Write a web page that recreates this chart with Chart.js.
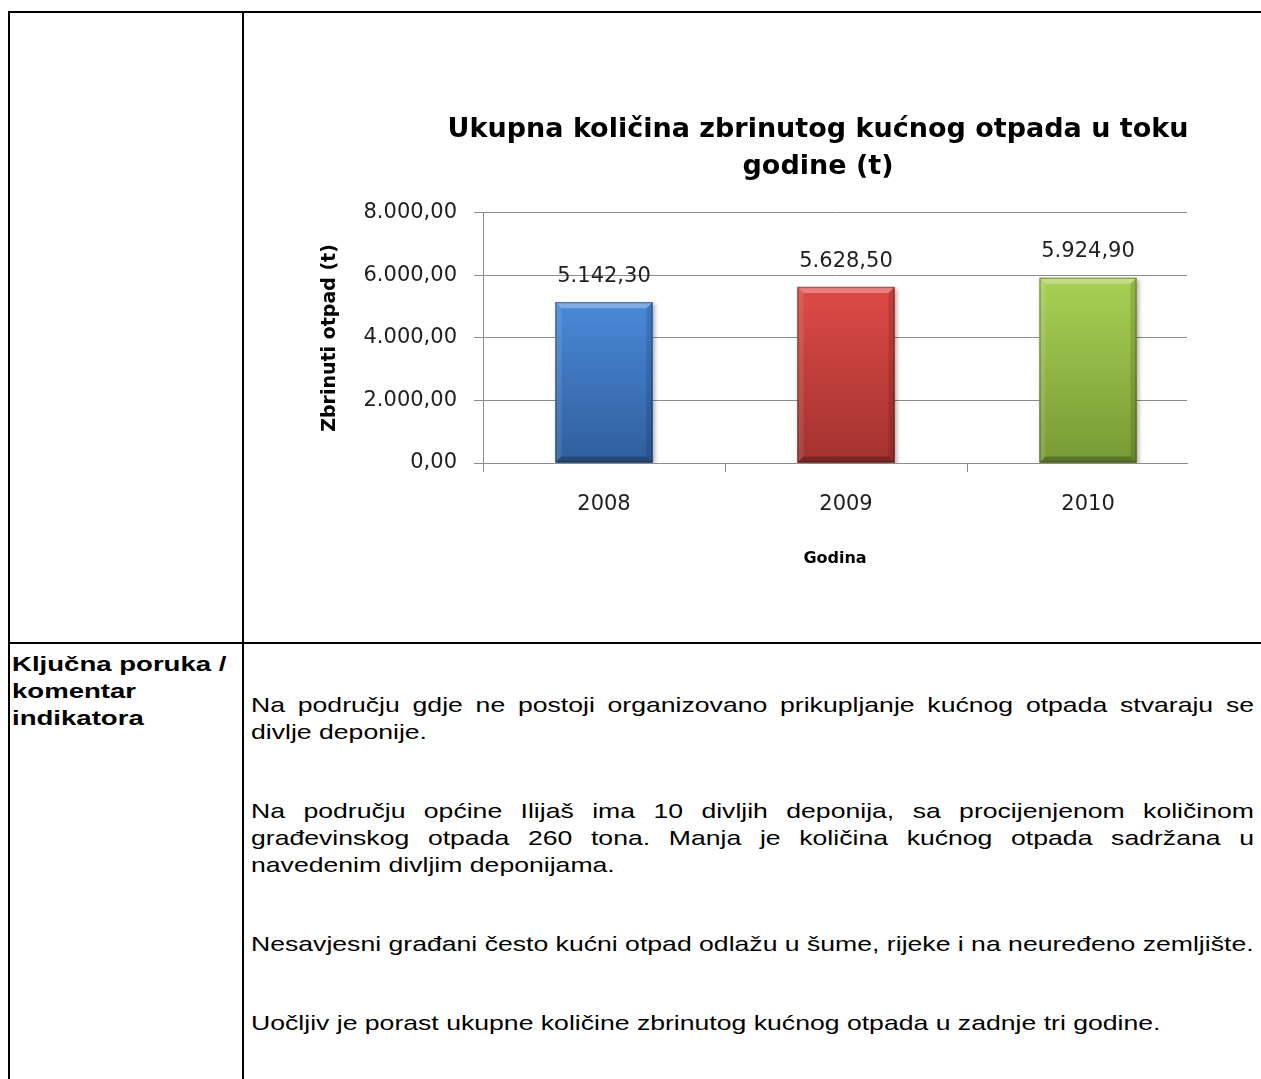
<!DOCTYPE html>
<html><head><meta charset="utf-8">
<script src="https://cdn.jsdelivr.net/npm/chart.js@4.4.1/dist/chart.umd.min.js"></script>
<style>
html,body{margin:0;padding:0;background:#fff;}
body{width:1261px;height:1079px;position:relative;overflow:hidden;font-family:"Liberation Sans",Arial,sans-serif;color:#000;}
.ln{position:absolute;background:#000;}
.t{position:absolute;left:251px;white-space:nowrap;transform-origin:0 0;font-size:21px;line-height:21px;}
.j{white-space:normal;text-align:justify;text-align-last:justify;}
.b{left:12px;font-weight:bold;font-size:20px;line-height:20px;}
</style></head>
<body>
<div class="ln" style="left:8px;top:11px;width:1253px;height:2px"></div>
<div class="ln" style="left:8px;top:11px;width:2px;height:1068px"></div>
<div class="ln" style="left:242px;top:11px;width:2px;height:1068px"></div>
<div class="ln" style="left:8px;top:642px;width:1253px;height:2px"></div>

<canvas id="c" width="961" height="520" style="position:absolute;left:300px;top:80px;width:961px;height:520px"></canvas>

<div class="t b lab" id="k1" style="top:654px">Ključna poruka /</div>
<div class="t b lab" style="top:681px">komentar</div>
<div class="t b lab" style="top:708px">indikatora</div>

<div class="t j bt" style="top:694px">Na području gdje ne postoji organizovano prikupljanje kućnog otpada stvaraju se</div>
<div class="t bt" style="top:721px">divlje deponije.</div>
<div class="t j bt" style="top:800px">Na području općine Ilijaš ima 10 divljih deponija, sa procijenjenom količinom</div>
<div class="t j bt" style="top:827px">građevinskog otpada 260 tona. Manja je količina kućnog otpada sadržana u</div>
<div class="t bt" style="top:854px">navedenim divljim deponijama.</div>
<div class="t bt" id="p3" style="top:933px">Nesavjesni građani često kućni otpad odlažu u šume, rijeke i na neuređeno zemljište.</div>
<div class="t bt" style="top:1012px">Uočljiv je porast ukupne količine zbrinutog kućnog otpada u zadnje tri godine.</div>

<script>
// ---- data ----
const categories = ['2008', '2009', '2010'];
const values = [5142.3, 5628.5, 5924.9];
const yTicks = [0, 2000, 4000, 6000, 8000];
const titleLines = ['Ukupna količina zbrinutog kućnog otpada u toku', 'godine (t)'];
const yTitle = 'Zbrinuti otpad (t)';
const xTitle = 'Godina';

// ---- text scaling (table text is horizontally stretched in the reference) ----
(function(){
  const p3 = document.getElementById('p3');
  const s = 1002 / p3.offsetWidth;
  document.querySelectorAll('.bt').forEach(el => {
    if (el.classList.contains('j')) el.style.width = (1003 / s) + 'px';
    el.style.transform = 'scaleX(' + s + ')';
  });
  const k1 = document.getElementById('k1');
  const s2 = 215 / k1.offsetWidth;
  document.querySelectorAll('.lab').forEach(el => { el.style.transform = 'scaleX(' + s2 + ')'; });
})();

function fmt(v) {
  const parts = Number(v).toFixed(2).split('.');
  return parts[0].replace(/\B(?=(\d{3})+(?!\d))/g, '.') + ',' + parts[1];
}

const barTop = ['#4a89d8', '#de4a47', '#a8d054'];
const barBottom = ['#2f5e9d', '#a2322e', '#789a35'];
const gridColor = '#8c8c8c';
const FONT = "'DejaVu Sans', sans-serif";

function poly(ctx, pts, color) {
  ctx.beginPath();
  ctx.moveTo(pts[0][0], pts[0][1]);
  for (let i = 1; i < pts.length; i++) ctx.lineTo(pts[i][0], pts[i][1]);
  ctx.closePath();
  ctx.fillStyle = color;
  ctx.fill();
}

const barEffects = {
  id: 'barEffects',
  beforeDatasetDraw(chart) {
    const ctx = chart.ctx;
    ctx.save();
    ctx.shadowColor = 'rgba(0,0,0,0.30)';
    ctx.shadowBlur = 4;
    ctx.shadowOffsetX = 2;
    ctx.shadowOffsetY = 2;
  },
  afterDatasetDraw(chart) {
    chart.ctx.restore();
  },
  afterDatasetsDraw(chart) {
    const ctx = chart.ctx;
    const meta = chart.getDatasetMeta(0);
    meta.data.forEach((bar, i) => {
      const p = bar.getProps(['x', 'y', 'base', 'width'], true);
      const l = p.x - p.width / 2, r = p.x + p.width / 2, t = p.y, b = p.base, e = 6;
      ctx.save();
      poly(ctx, [[l, t], [r, t], [r - e, t + e], [l + e, t + e]], 'rgba(255,255,255,0.30)');
      poly(ctx, [[l, t], [l + e, t + e], [l + e, b - e], [l, b]], 'rgba(255,255,255,0.10)');
      poly(ctx, [[r, t], [r, b], [r - e, b - e], [r - e, t + e]], 'rgba(0,0,0,0.13)');
      poly(ctx, [[l, b], [l + e, b - e], [r - e, b - e], [r, b]], 'rgba(0,0,0,0.25)');
      ctx.strokeStyle = 'rgba(0,0,0,0.35)';
      ctx.lineWidth = 1;
      ctx.strokeRect(l + 0.5, t + 0.5, p.width - 1, b - t - 1);
      ctx.fillStyle = '#1f1f1f';
      ctx.font = "21px " + FONT;
      ctx.textAlign = 'center';
      ctx.textBaseline = 'middle';
      ctx.fillText(fmt(values[i]), p.x, t - 26);
      ctx.restore();
    });
  }
};

const ctx = document.getElementById('c').getContext('2d');
new Chart(ctx, {
  type: 'bar',
  data: {
    datasets: [{
      data: categories.map((c, i) => ({ x: i, y: values[i] })),
      barThickness: 97,
      borderWidth: 0,
      backgroundColor: (c) => {
        const chart = c.chart;
        const i = c.dataIndex;
        if (!chart.chartArea || !chart.scales.y || i === undefined) return barTop[i || 0];
        const y0 = chart.scales.y.getPixelForValue(values[i]);
        const y1 = chart.scales.y.getPixelForValue(0);
        const g = chart.ctx.createLinearGradient(0, y0, 0, y1);
        g.addColorStop(0, barTop[i]);
        g.addColorStop(1, barBottom[i]);
        return g;
      }
    }]
  },
  options: {
    responsive: false,
    animation: false,
    devicePixelRatio: 1,
    layout: { padding: { left: 15, right: -60, top: 0, bottom: 27.8 } },
    plugins: {
      legend: { display: false },
      tooltip: { enabled: false },
      title: {
        display: true,
        text: titleLines,
        color: '#000',
        font: { family: FONT, size: 27, weight: 'bold', lineHeight: 1.37 },
        padding: { top: 31.5, bottom: 27.5 }
      }
    },
    scales: {
      x: {
        type: 'linear',
        min: -0.5,
        max: 2.409,
        offset: false,
        bounds: 'data',
        afterBuildTicks: (scale) => { scale.ticks = categories.map((c, i) => ({ value: i })); },
        grid: { offset: true, drawOnChartArea: false, drawTicks: true, tickLength: 9, color: gridColor },
        border: { display: true, color: gridColor },
        ticks: {
          callback: (v) => categories[v] !== undefined ? categories[v] : '',
          color: '#1f1f1f',
          font: { family: FONT, size: 21 },
          padding: 20.4,
          maxRotation: 0,
          autoSkip: false
        },
        title: {
          display: true,
          text: xTitle,
          color: '#000',
          font: { family: FONT, size: 16, weight: 'bold' },
          padding: { top: 11, bottom: 4 }
        }
      },
      y: {
        min: 0,
        max: 8000,
        afterBuildTicks: (scale) => { scale.ticks = yTicks.map(v => ({ value: v })); },
        afterFit: (scale) => { scale.width = 168; },
        grid: { color: gridColor, tickLength: 9 },
        border: { display: true, color: gridColor },
        ticks: {
          callback: (v) => fmt(v),
          color: '#1f1f1f',
          font: { family: FONT, size: 21 },
          padding: 17
        },
        title: {
          display: true,
          text: yTitle,
          color: '#000',
          font: { family: FONT, size: 19, weight: 'bold' },
          padding: { top: 3.6, bottom: 0 }
        }
      },
      yRight: {
        type: 'linear',
        position: 'right',
        display: true,
        afterFit: (scale) => { scale.width = 134; },
        grid: { display: false },
        border: { display: false },
        ticks: { display: false },
        title: { display: false }
      }
    }
  },
  plugins: [barEffects]
});
</script>
</body></html>
